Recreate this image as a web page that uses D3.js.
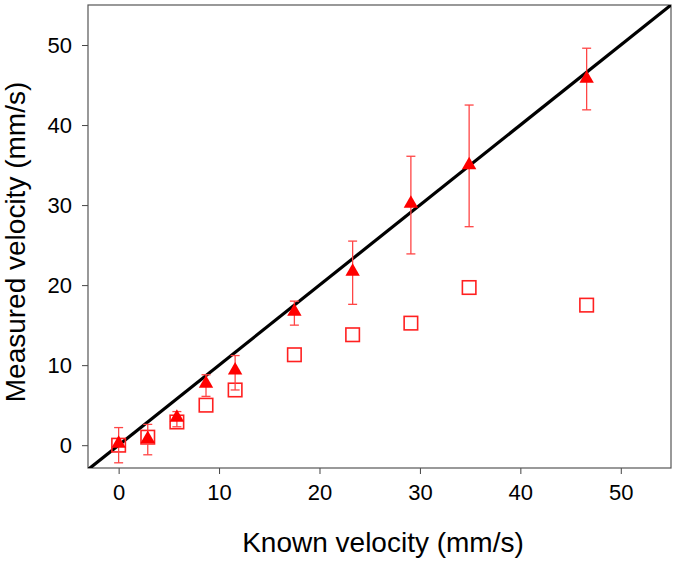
<!DOCTYPE html>
<html><head><meta charset="utf-8">
<script src="https://cdn.jsdelivr.net/npm/d3@7"></script>
<style>body{margin:0;background:#fff}svg{display:block}text{font-family:"Liberation Sans",Arial,sans-serif;fill:#000}</style>
</head><body>
<script>
const known = [0, 2.9, 5.8, 8.7, 11.6, 17.5, 23.3, 29.1, 34.9, 46.6];
const measuredTri = [0.2, 0.8, 3.45, 7.7, 9.35, 16.7, 21.7, 30.2, 35.0, 45.8];
const errLow = [-2.2, -1.2, 2.3, 6.1, 6.9, 15.0, 17.6, 23.9, 27.3, 41.9];
const errHigh = [2.2, 2.6, 4.2, 8.8, 11.2, 18.0, 25.5, 36.1, 42.5, 49.6];
const measuredSq = [0, 1.0, 2.9, 5.0, 6.9, 11.3, 13.8, 15.25, 19.7, 17.5];
const ticks = [0, 10, 20, 30, 40, 50];

const W = 675, H = 566;
const m = {l: 88, r: 4, t: 5, b: 98};
const svg = d3.select("body").append("svg").attr("width", W).attr("height", H);
const x = d3.scaleLinear().domain([-3.05, 55]).range([m.l, W - m.r]);
const y = d3.scaleLinear().domain([-2.85, 55]).range([H - m.b, m.t]);

svg.append("defs").append("clipPath").attr("id", "clip")
  .append("rect").attr("x", m.l).attr("y", m.t).attr("width", W - m.r - m.l).attr("height", H - m.b - m.t);

// axes
const xAxis = svg.append("g").attr("transform", `translate(0,${H - m.b})`)
  .call(d3.axisBottom(x).tickValues(ticks).tickSize(6).tickSizeOuter(0).tickPadding(6));
const yAxis = svg.append("g").attr("transform", `translate(${m.l},0)`)
  .call(d3.axisLeft(y).tickValues(ticks).tickSize(6).tickSizeOuter(0).tickPadding(10));
[xAxis, yAxis].forEach(a => {
  a.select(".domain").remove();
  a.selectAll(".tick line").attr("stroke", "#444");
  a.selectAll(".tick text").style("font-size", "22px").style("font-family", '"Liberation Sans",Arial,sans-serif').attr("fill", "#000");
});
xAxis.selectAll(".tick text").attr("dy", "0.9em");
yAxis.selectAll(".tick text").attr("dy", "0.35em");

// frame
svg.append("rect").attr("x", m.l).attr("y", m.t).attr("width", W - m.r - m.l).attr("height", H - m.b - m.t)
  .attr("fill", "none").attr("stroke", "#555").attr("stroke-width", 1.2);

const plot = svg.append("g").attr("clip-path", "url(#clip)");

// identity line
plot.append("line").attr("x1", x(-5)).attr("y1", y(-5)).attr("x2", x(60)).attr("y2", y(60))
  .attr("stroke", "#000").attr("stroke-width", 3.2);

// squares
plot.selectAll(".sq").data(known).join("rect")
  .attr("x", (d) => x(d) - 6.75).attr("y", (d, i) => y(measuredSq[i]) - 6.75)
  .attr("width", 13.5).attr("height", 13.5)
  .attr("fill", "none").attr("stroke", "#ff2020").attr("stroke-width", 1.6);

// error bars
const eb = plot.append("g").attr("stroke", "#ff4545").attr("stroke-width", 1.3);
known.forEach((d, i) => {
  eb.append("line").attr("x1", x(d)).attr("x2", x(d)).attr("y1", y(errLow[i])).attr("y2", y(errHigh[i]));
  eb.append("line").attr("x1", x(d) - 4.5).attr("x2", x(d) + 4.5).attr("y1", y(errLow[i])).attr("y2", y(errLow[i]));
  eb.append("line").attr("x1", x(d) - 4.5).attr("x2", x(d) + 4.5).attr("y1", y(errHigh[i])).attr("y2", y(errHigh[i]));
});

// triangles
const tri = d3.symbol().type(d3.symbolTriangle).size(90);
plot.selectAll(".tri").data(known).join("path")
  .attr("d", tri).attr("transform", (d, i) => `translate(${x(d)},${y(measuredTri[i])})`)
  .attr("fill", "#ff0000");

// titles
svg.append("text").attr("x", 383).attr("y", 552).attr("text-anchor", "middle")
  .style("font-size", "28px").text("Known velocity (mm/s)");
svg.append("text").attr("transform", "translate(25,242) rotate(-90)").attr("text-anchor", "middle")
  .style("font-size", "28px").text("Measured velocity (mm/s)");
</script>
</body></html>
